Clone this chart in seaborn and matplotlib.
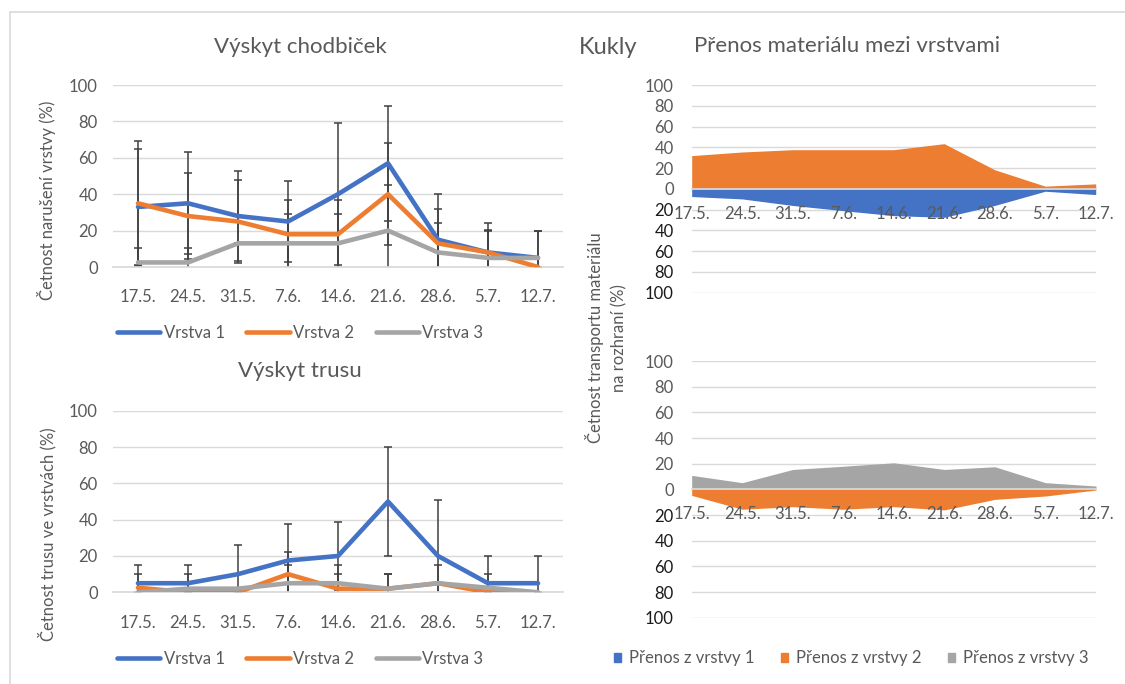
import numpy as np
import pandas as pd
import matplotlib
matplotlib.use("Agg")
import matplotlib.pyplot as plt
import seaborn as sns
from matplotlib.lines import Line2D
from matplotlib.patches import Patch

# ---------------- data ----------------
dates = ['17.5.', '24.5.', '31.5.', '7.6.', '14.6.', '21.6.', '28.6.', '5.7.', '12.7.']
layers = ['Vrstva 1', 'Vrstva 2', 'Vrstva 3']

# Výskyt chodbiček (%)
chod_v1 = [33, 35, 28, 25, 40, 57, 15, 8, 5]
chod_v2 = [35, 28, 25, 18, 18, 40, 13, 8, 0]
chod_v3 = [2.5, 2.5, 13, 13, 13, 20, 8, 5, 5]
chod_err_v1 = [32, 28, 24.5, 22.5, 39, 31.5, 25, 16, 15]
chod_err_v2 = [34.5, 23.5, 23, 19, 19, 28, 19, 12.5, 0]
chod_err_v3 = [8, 8, 0, 16, 16, 25, 16, 15, 15]

# Výskyt trusu (%)
trus_v1 = [5, 5, 10, 17.5, 20, 50, 20, 5, 5]
trus_v2 = [2.5, 0, 0, 10, 2, 2, 5, 0, 0]
trus_v3 = [0, 2, 2, 5, 5, 2, 5, 2.5, 0]
trus_err_v1 = [10, 10, 16, 20, 18.5, 30, 31, 15, 15]
trus_err_v2 = [7.5, 0, 0, 12, 8, 8, 0, 0, 0]
trus_err_v3 = [0, 8, 0, 10, 10, 8, 10, 7.5, 0]

# Přenos materiálu mezi vrstvami (%), downward transfer drawn negative
transfer_names = ['Přenos z vrstvy 1', 'Přenos z vrstvy 2', 'Přenos z vrstvy 3']
top_z1 = [-7.4, -9.7, -16, -21, -25.8, -27.4, -16, -2.3, -5.5]
top_z2 = [32, 35.5, 37.7, 37.7, 37.7, 43.5, 18.4, 2.6, 4.8]
bot_z3 = [10.9, 5.2, 15.5, 18, 20.7, 15.5, 17.6, 5.2, 2.6]
bot_z2 = [-4.7, -15.5, -13.5, -15.5, -13.5, -16, -7.8, -5.2, -0.5]

# ---------------- style ----------------
sns.set_theme(style="white")
plt.rcParams['font.family'] = ['Lato', 'DejaVu Sans']

BLUE, ORANGE, GRAY = '#4472C4', '#ED7D31', '#A5A5A5'
TXT = '#595959'
GRID = '#D9D9D9'
ERR = '#404040'

W, H = 1125, 684
fig = plt.figure(figsize=(W / 100, H / 100), dpi=100)


def rect(l, t, r, b):
    return [l / W, 1 - b / H, (r - l) / W, (b - t) / H]


def line_panel(ax, vals, errs):
    x = np.arange(len(dates))
    df = pd.DataFrame({
        'x': np.tile(x, 3),
        'val': np.concatenate(vals),
        'series': np.repeat(layers, len(dates)),
    })
    for v, e in zip(vals, errs):
        ax.errorbar(x, v, yerr=e, fmt='none', ecolor=ERR, elinewidth=1.1,
                    capsize=3, capthick=1.1, zorder=2)
    sns.lineplot(data=df, x='x', y='val', hue='series', hue_order=layers,
                 palette=[BLUE, ORANGE, GRAY], linewidth=3.3, legend=False,
                 ax=ax, zorder=3)
    ax.set_xlim(-0.5, len(dates) - 0.5)
    ax.set_ylim(0, 100)
    ax.set_yticks(range(0, 101, 20))
    ax.set_xticks(x)
    ax.set_xticklabels(dates)
    ax.grid(axis='y', color=GRID, lw=1)
    ax.set_axisbelow(True)
    for s in ['left', 'right', 'top']:
        ax.spines[s].set_visible(False)
    ax.spines['bottom'].set_color(GRID)
    ax.tick_params(axis='both', length=0, labelsize=12, colors=TXT)
    ax.tick_params(axis='x', pad=16)
    ax.tick_params(axis='y', pad=11)
    ax.set_xlabel('')
    ax.set_ylabel('')


def area_panel(ax, up, down, up_color, down_color):
    x = np.arange(len(dates))
    ax.fill_between(x, 0, down, color=down_color, lw=0, zorder=2)
    ax.fill_between(x, 0, up, color=up_color, lw=0, zorder=2)
    ax.set_xlim(0, len(dates) - 1)
    ax.set_ylim(-100, 100)
    yt = list(range(-100, 101, 20))
    ax.set_yticks(yt)
    ax.set_yticklabels([str(abs(v)) for v in yt])
    for lab, v in zip(ax.get_yticklabels(), yt):
        lab.set_color(TXT if v >= 0 else '#1a1a1a')
    ax.set_xticks(x)
    ax.set_xticklabels(dates)
    ax.grid(axis='y', color=GRID, lw=1)
    ax.set_axisbelow(True)
    ax.xaxis.set_zorder(5)
    for s in ['left', 'right', 'top']:
        ax.spines[s].set_visible(False)
    ax.spines['bottom'].set_position(('data', 0))
    ax.spines['bottom'].set_color(GRID)
    ax.spines['bottom'].set_zorder(3)
    ax.tick_params(axis='x', length=4, width=1, color=GRID, direction='out',
                   labelsize=12, labelcolor=TXT, pad=8)
    ax.tick_params(axis='y', length=0, labelsize=12, pad=13)


ax1 = fig.add_axes(rect(113, 85, 563, 267))
line_panel(ax1, [chod_v1, chod_v2, chod_v3], [chod_err_v1, chod_err_v2, chod_err_v3])
ax2 = fig.add_axes(rect(113, 410.7, 563, 592.3))
line_panel(ax2, [trus_v1, trus_v2, trus_v3], [trus_err_v1, trus_err_v2, trus_err_v3])

ax3 = fig.add_axes(rect(691.7, 85, 1095.7, 292.7))
area_panel(ax3, top_z2, top_z1, ORANGE, BLUE)
ax4 = fig.add_axes(rect(691.7, 361, 1096, 617.7))
area_panel(ax4, bot_z3, bot_z2, GRAY, ORANGE)

# ---------------- texts ----------------
fig.text(300 / W, 1 - 47 / H, 'Výskyt chodbiček', ha='center', va='center', fontsize=16, color=TXT)
fig.text(300 / W, 1 - 371 / H, 'Výskyt trusu', ha='center', va='center', fontsize=16, color=TXT)
fig.text(608 / W, 1 - 48 / H, 'Kukly', ha='center', va='center', fontsize=17, color=TXT)
fig.text(847 / W, 1 - 46 / H, 'Přenos materiálu mezi vrstvami', ha='center', va='center', fontsize=16, color=TXT)

fig.text(47 / W, 1 - 200 / H, 'Četnost narušení vrstvy (%)', rotation=90, ha='center', va='center',
         fontsize=12, color=TXT)
fig.text(47 / W, 1 - 534 / H, 'Četnost trusu ve vrstvách (%)', rotation=90, ha='center', va='center',
         fontsize=12, color=TXT)
fig.text(606 / W, 1 - 338 / H, 'Četnost transportu materiálu\nna rozhraní (%)', rotation=90,
         ha='center', va='center', fontsize=12, color=TXT, linespacing=1.6, multialignment='center')

# ---------------- legends ----------------
line_handles = [Line2D([], [], color=c, lw=3.3) for c in (BLUE, ORANGE, GRAY)]
for ax, yc in ((ax1, 333), (ax2, 659)):
    ax.legend(line_handles, layers, loc='center', bbox_to_anchor=(300 / W, 1 - yc / H),
              bbox_transform=fig.transFigure, ncol=3, frameon=False, fontsize=12,
              handlelength=2.6, handletextpad=0.2, columnspacing=1.3, labelcolor=TXT)

patch_handles = [Patch(color=c) for c in (BLUE, ORANGE, GRAY)]
ax4.legend(patch_handles, transfer_names, loc='center', bbox_to_anchor=(851 / W, 1 - 658 / H),
           bbox_transform=fig.transFigure, ncol=3, frameon=False, fontsize=12,
           handlelength=0.45, handleheight=0.45, handletextpad=0.45, columnspacing=1.6,
           labelcolor=TXT)

# chart area border (top and left edges)
fig.add_artist(Line2D([10 / W, 10 / W], [0, 1 - 12 / H], transform=fig.transFigure, color=GRID, lw=1.2))
fig.add_artist(Line2D([10 / W, 1], [1 - 12 / H, 1 - 12 / H], transform=fig.transFigure, color=GRID, lw=1.2))

fig.savefig('out.png', dpi=100)
